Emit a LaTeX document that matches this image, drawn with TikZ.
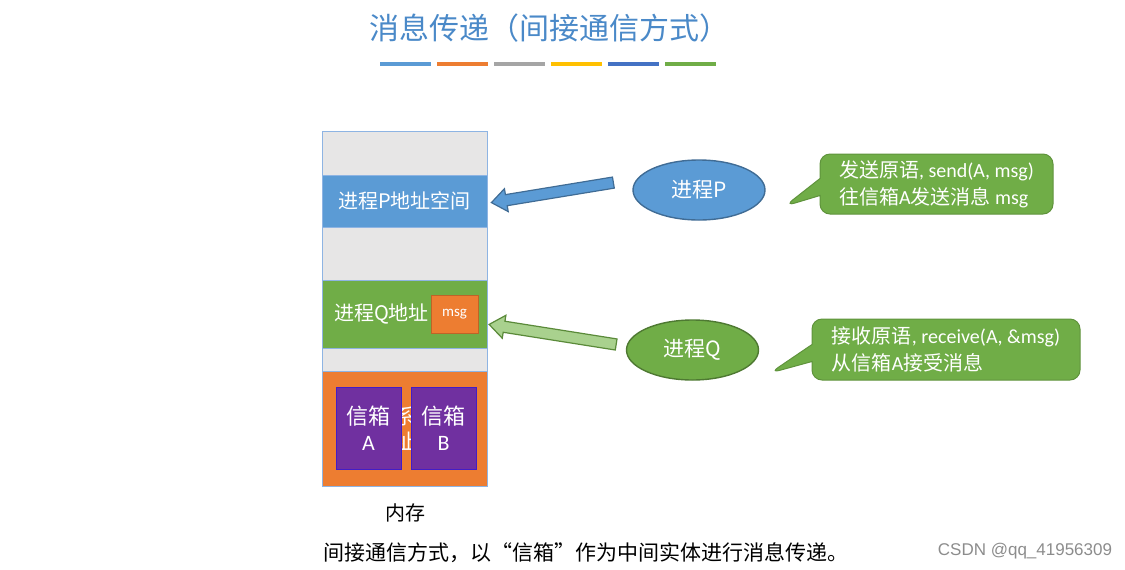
\documentclass[tikz,border=0pt]{standalone}
\usepackage{fontspec}
\setmainfont{Carlito}
\newfontfamily\cjk{Noto Sans CJK SC}
\newfontfamily\wmfont{Liberation Sans}
\usetikzlibrary{positioning,shapes.geometric,shapes.arrows,shapes.callouts,calc}

\definecolor{tblue}{HTML}{4A89C8}
\definecolor{pblue}{HTML}{5B9BD5}
\definecolor{pgreen}{HTML}{70AD47}
\definecolor{lgreen}{HTML}{A9D18E}
\definecolor{korange}{HTML}{ED7D31}
\definecolor{mpurple}{HTML}{7030A0}
\definecolor{memgrey}{HTML}{E7E6E6}
\definecolor{memline}{HTML}{8EB4E3}
\definecolor{wmgrey}{HTML}{8C8C8C}
\definecolor{bargrey}{HTML}{A5A5A5}
\definecolor{baryellow}{HTML}{FFC000}
\definecolor{bardblue}{HTML}{4472C4}

\begin{document}
\begin{tikzpicture}[
  x=0.5pt, y=-0.5pt,
  every node/.style={inner sep=0pt, outer sep=0pt},
  seg/.style={draw=memline, line width=0.5pt, minimum width=82.5pt},
  memtext/.style={text=white, font=\cjk\fontsize{10}{12}\selectfont, align=center},
  boxtext/.style={text=white, font=\cjk\fontsize{11}{13}\selectfont, align=center},
  mailbox/.style={fill=mpurple, draw=mpurple!60!blue, line width=0.5pt, minimum width=32.5pt, minimum height=41pt, boxtext},
  proc/.style={ellipse, minimum width=66pt, minimum height=30pt, line width=0.7pt, text=white, font=\cjk\fontsize{10.5}{12}\selectfont},
  blockarr/.style={single arrow, single arrow head extend=3pt, single arrow tip angle=75, inner ysep=2.5pt, inner xsep=0pt, line width=0.6pt, sloped, allow upside down, midway},
  bubble/.style={rectangle callout, rounded corners=5pt, fill=pgreen, draw=pgreen!85!black, line width=0.5pt, text=white, align=left, callout pointer width=8.5pt, font=\fontsize{10}{13.5}\selectfont},
]
\useasboundingbox (0,0) rectangle (1125,569);

% title and colour bars
\node[font=\cjk\fontsize{15}{18}\selectfont, text=tblue] (title) at (549,28) {消息传递（间接通信方式）};
\foreach \c [count=\i from 0] in {pblue,korange,bargrey,baryellow,bardblue,pgreen}
  \fill[\c] (380+57*\i,62) rectangle +(51,4);

% memory column
\node[seg, fill=memgrey, minimum height=22pt, anchor=north] (s1) at (404.5,131) {};
\node[seg, fill=pblue, minimum height=26pt, below=0pt of s1, memtext] (pspace) {进程P地址空间};
\node[seg, fill=memgrey, minimum height=26.5pt, below=0pt of pspace] (s3) {};
\node[seg, fill=pgreen, minimum height=34pt, below=0pt of s3] (qspace) {};
\node[memtext, right=6pt of qspace.west] (qlabel) {进程Q地址};
\node[fill=korange, draw=korange!80!black, line width=0.4pt, minimum width=23.5pt, minimum height=19pt,
  left=4.5pt of qspace.east, text=white, font=\fontsize{7.5}{9}\selectfont] (msg) {msg};
\node[seg, fill=memgrey, minimum height=11.5pt, below=0pt of qspace] (s5) {};
\node[seg, fill=korange, minimum height=57.5pt, below=0pt of s5] (kern) {};
\node[memtext, font=\cjk\fontsize{10.5}{12.5}\selectfont] (kernlabel) at (kern) {操作系统内\\核地址空间};
\node[mailbox, right=7pt of kern.west] (boxA) {信箱\\{\rmfamily A}};
\node[mailbox, left=5.5pt of kern.east] (boxB) {信箱\\{\rmfamily B}};
\node[font=\cjk\fontsize{10}{12}\selectfont] (memlabel) at (405,513) {内存};

% processes
\node[proc, fill=pblue, draw=pblue!70!black] (procP) at (699,190) {进程P};
\node[proc, fill=pgreen, draw=pgreen!70!black] (procQ) at (692.5,350) {进程Q};

\coordinate (pTail) at ($(procP.west)+(-16,-8)$);
\coordinate (pTip) at ($(pspace.east)+(8,1)$);
\coordinate (qTail) at ($(procQ.west)+(-7,-5)$);
\coordinate (qTip) at ($(qspace.east)+(6,11)$);
\path (pTail) -- (pTip) node[blockarr, fill=pblue, draw=pblue!70!black, minimum height=61.8pt] (arrP) {};
\path (qTail) -- (qTip) node[blockarr, fill=lgreen, draw=pgreen!80!black, minimum height=64.3pt] (arrQ) {};

% primitives
\coordinate (sendTip) at (785,206);
\coordinate (recvTip) at (770,373);
\node[bubble, minimum width=116.5pt, minimum height=30pt, callout absolute pointer=(sendTip)] (sendnote) at (936.5,184)
  {{\cjk 发送原语}, send(A, msg)\\{\cjk 往信箱}A{\cjk 发送消息} msg};
\node[bubble, minimum width=134pt, minimum height=30.5pt, callout absolute pointer=(recvTip)] (recvnote) at (946,349.5)
  {{\cjk 接收原语}, receive(A, \&msg)\\{\cjk 从信箱}A{\cjk 接受消息}};

% caption
\node[font=\cjk\fontsize{10.5}{12}\selectfont] (caption) at (585.5,553) {间接通信方式，以“信箱”作为中间实体进行消息传递。};
\node[font=\wmfont\fontsize{8.5}{10}\selectfont, text=wmgrey] (mark) at (1025,551) {CSDN @qq\_41956309};
\end{tikzpicture}
\end{document}
